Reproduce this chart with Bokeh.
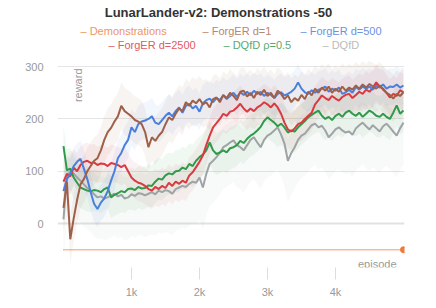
from bokeh.plotting import figure
from bokeh.models import Range1d, FixedTicker, Label, Span, ColumnDataSource
from bokeh.core.properties import value
from bokeh.embed import file_html
from bokeh.resources import INLINE

episodes = list(range(0, 5001, 50))

forger_d1 = [30, 80, -30, 10, 45, 75, 85, 100, 110, 120, 125, 140, 160, 175, 183, 195, 205, 225, 215, 210,
             205, 198, 195, 190, 175, 146, 165, 158, 168, 175, 190, 203, 198, 210, 220, 215, 232, 225, 235, 230,
             238, 228, 232, 222, 238, 241, 232, 246, 240, 250, 244, 236, 252, 254, 243, 250, 240, 252, 246, 256,
             244, 250, 240, 254, 248, 238, 245, 232, 240, 235, 246, 238, 252, 245, 258, 250, 260, 254, 262, 250,
             258, 252, 262, 254, 260, 256, 264, 258, 266, 260, 267, 262, 258, 264, 256, 250, 246, 239, 248, 244, 251]

forger_d500 = [62, 85, 95, 110, 118, 124, 105, 85, 60, 38, 28, 40, 48, 62, 82, 100, 125, 135, 150, 160,
               184, 175, 190, 195, 197, 200, 205, 193, 190, 198, 206, 212, 205, 215, 222, 212, 225, 229, 220, 225,
               214, 230, 236, 239, 232, 240, 236, 245, 238, 244, 250, 242, 251, 246, 252, 245, 254, 248, 252, 244,
               250, 246, 240, 248, 251, 245, 248, 252, 258, 270, 258, 251, 248, 255, 250, 256, 258, 262, 252, 258,
               254, 260, 248, 251, 256, 250, 261, 256, 262, 258, 262, 256, 264, 260, 266, 258, 262, 261, 266, 260, 264]

forger_d2500 = [80, 95, 90, 107, 100, 112, 118, 120, 116, 117, 112, 115, 114, 110, 116, 114, 112, 108, 112, 100,
                88, 82, 78, 76, 72, 66, 63, 70, 66, 72, 68, 78, 72, 80, 76, 82, 78, 92, 98, 108,
                118, 130, 150, 168, 184, 192, 200, 210, 206, 214, 216, 222, 229, 220, 214, 220, 215, 222, 226, 232,
                228, 222, 230, 222, 210, 193, 180, 176, 182, 190, 193, 200, 206, 212, 228, 236, 245, 240, 236, 244,
                239, 235, 242, 246, 248, 240, 246, 252, 248, 256, 252, 260, 270, 262, 258, 250, 241, 248, 244, 255, 251]

dqfd_rho = [148, 102, 105, 88, 78, 69, 66, 63, 62, 64, 63, 60, 66, 69, 50, 55, 58, 62, 60, 66,
            67, 64, 70, 67, 68, 73, 72, 80, 86, 84, 92, 96, 94, 100, 101, 107, 104, 114, 110, 120,
            127, 132, 140, 155, 140, 133, 136, 140, 136, 144, 146, 150, 158, 154, 162, 168, 172, 178, 185, 196,
            203, 198, 193, 186, 191, 184, 174, 178, 176, 184, 190, 196, 203, 208, 212, 216, 206, 200, 204, 198,
            206, 210, 204, 212, 216, 210, 206, 212, 204, 210, 216, 212, 206, 204, 210, 204, 200, 212, 226, 210, 216]

dqfd = [8, 90, 100, 96, 88, 82, 75, 68, 63, 56, 50, 52, 48, 50, 54, 57, 52, 55, 48, 50,
        56, 53, 58, 57, 54, 57, 60, 56, 63, 60, 64, 62, 57, 66, 69, 72, 70, 76, 80, 78,
        88, 69, 95, 114, 120, 127, 135, 146, 150, 155, 159, 150, 146, 140, 150, 160, 165, 155, 146, 160,
        168, 172, 178, 184, 170, 153, 120, 135, 146, 160, 168, 172, 180, 188, 191, 184, 187, 178, 165, 172,
        180, 184, 178, 174, 176, 170, 182, 188, 193, 186, 180, 188, 182, 176, 186, 191, 184, 176, 168, 182, 193]

demo_level = -50

series_names = ["ForgER d=1", "ForgER d=500", "ForgER d=2500", "DQfD \u03c1=0.5", "DQfD"]
series_values = [forger_d1, forger_d500, forger_d2500, dqfd_rho, dqfd]
line_colors = ["#a05f48", "#4a7fdc", "#d93a40", "#2f9a4a", "#9fa3a6"]
text_colors = ["#b8866f", "#6b93e2", "#e05a5e", "#56ab6e", "#bcbcbc"]
band_low = [45, 35, 35, 40, 80]
band_high = [45, 35, 35, 40, 40]
demo_name = "Demonstrations"
demo_color = "#ee7a3b"
demo_text_color = "#ec9666"

title_text = "LunarLander-v2: Demonstrations -50"
x_ticks = [1000, 2000, 3000, 4000]
x_tick_labels = ["1k", "2k", "3k", "4k"]
y_ticks = [0, 100, 200, 300]

FONT = "Liberation Sans"

# ---------- geometry: the frame spans the header too (title + legend drawn inside it) ----------
W, H = 436, 308
BORDER_L, BORDER_R, BORDER_T, BORDER_B = 57, 32, 0, 41
FRAME_W = W - BORDER_L - BORDER_R
FRAME_H = H - BORDER_T - BORDER_B
XMIN, XMAX = -88, 5015
YMIN, YMAX = -84, 426.5


def px_to_x(px):
    return XMIN + (px - BORDER_L) * (XMAX - XMIN) / FRAME_W


def py_to_y(py):
    return YMAX - (py - BORDER_T) * (YMAX - YMIN) / FRAME_H


p = figure(width=W, height=H, x_range=Range1d(XMIN, XMAX), y_range=Range1d(YMIN, YMAX),
           output_backend="svg", toolbar_location=None,
           min_border_left=BORDER_L, min_border_right=BORDER_R,
           min_border_top=BORDER_T, min_border_bottom=BORDER_B)
p.outline_line_color = None
p.background_fill_color = "white"
p.xgrid.visible = False
p.ygrid.ticker = FixedTicker(ticks=[t for t in y_ticks if t != 0])
p.ygrid.grid_line_color = "#e6e6e6"

p.yaxis.ticker = FixedTicker(ticks=y_ticks)
p.yaxis.axis_line_color = None
p.yaxis.major_tick_line_color = None
p.yaxis.minor_tick_line_color = None
p.yaxis.major_label_standoff = 8
p.yaxis.major_label_text_color = "#999999"
p.yaxis.major_label_text_font = FONT
p.yaxis.major_label_text_font_size = "11px"

p.xaxis.ticker = FixedTicker(ticks=x_ticks)
p.xaxis.major_label_overrides = {t: l for t, l in zip(x_ticks, x_tick_labels)}
p.xaxis.axis_line_color = None
p.xaxis.minor_tick_line_color = None
p.xaxis.major_tick_in = 0
p.xaxis.major_tick_out = 12
p.xaxis.major_tick_line_color = "#dddddd"
p.xaxis.major_label_standoff = 6
p.xaxis.major_label_text_color = "#999999"
p.xaxis.major_label_text_font = FONT
p.xaxis.major_label_text_font_size = "11px"

p.add_layout(Span(location=0, dimension="width", line_color="#e2e2e2", line_width=2, level="underlay"))

for vals, col, lo, hi in zip(series_values, line_colors, band_low, band_high):
    src = ColumnDataSource(dict(x=episodes, y=vals,
                                lo=[v - lo for v in vals], hi=[v + hi for v in vals]))
    p.varea(x="x", y1="lo", y2="hi", source=src, fill_color=col, fill_alpha=0.07)

draw_order = [4, 3, 2, 1, 0]
for i in draw_order:
    p.line(episodes, series_values[i], line_color=line_colors[i], line_width=2)

demo_vals = [demo_level for _ in episodes]
p.line(episodes, demo_vals, line_color=demo_color, line_width=1.5, line_dash="1 1")
p.scatter([episodes[-1]], [demo_vals[-1]], size=6, color=demo_color)

p.add_layout(Label(x=px_to_x(77), y=py_to_y(68), text="reward", angle=1.5708, text_align="right",
                   text_baseline="middle", text_font=FONT, text_font_size="11px", text_color="#999999"))
p.add_layout(Label(x=px_to_x(396), y=py_to_y(263), text="episode", text_align="right", text_baseline="middle",
                   text_font=FONT, text_font_size="11px", text_color="#999999"))

# title
p.text(x=[px_to_x(218)], y=[py_to_y(12)], text=[title_text], text_align="center", text_baseline="middle",
       text_font=value(FONT), text_font_size="13px", text_font_style="bold", text_color="#333333")

# legend (two centred rows)
legend_names = [demo_name] + series_names
legend_colors = [demo_text_color] + text_colors
legend_px = [80, 202, 300, 108, 223, 322]
legend_py = [30, 30, 30, 44, 44, 44]
p.text(x=[px_to_x(v) for v in legend_px], y=[py_to_y(v) for v in legend_py],
       text=["\u2013 " + n for n in legend_names], text_color=legend_colors,
       text_align="left", text_baseline="middle", text_font=value(FONT), text_font_size="11px")

open("out.html", "w").write(file_html(p, INLINE))
